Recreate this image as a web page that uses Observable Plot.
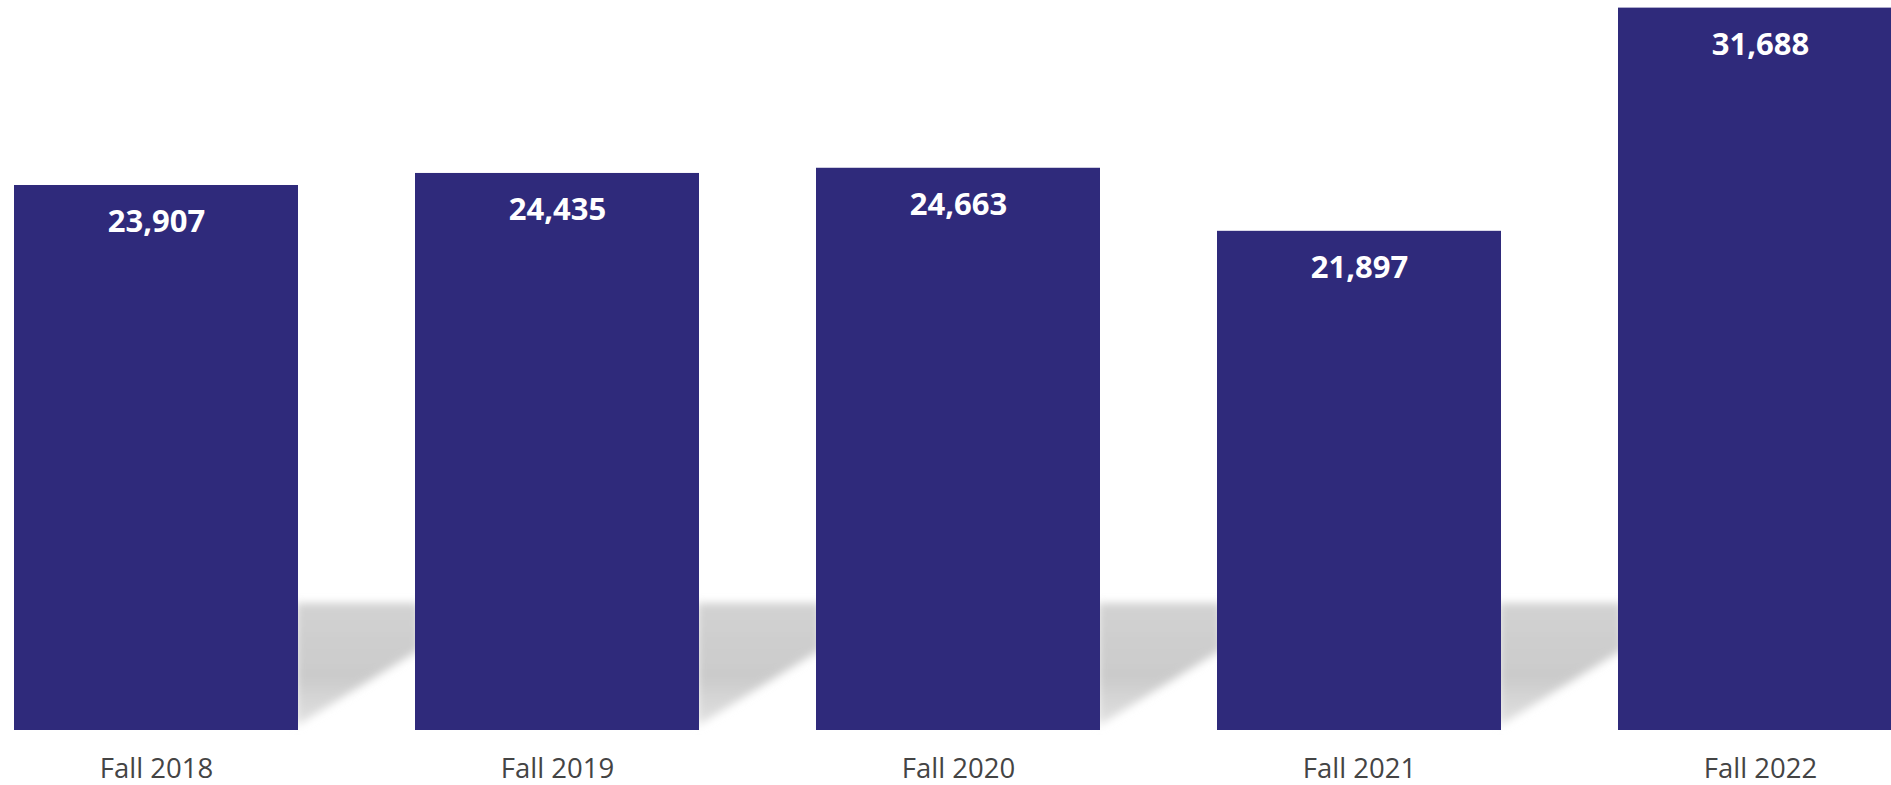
<!DOCTYPE html>
<html>
<head>
<meta charset="utf-8">
<script src="https://cdn.jsdelivr.net/npm/d3@7"></script>
<script src="https://cdn.jsdelivr.net/npm/@observablehq/plot@0.6"></script>
<style>
  html, body { margin: 0; padding: 0; background: #fff; overflow: hidden; }
  #chart svg { display: block; }
</style>
</head>
<body>
<div id="chart"></div>
<script>
const terms = ["Fall 2018", "Fall 2019", "Fall 2020", "Fall 2021", "Fall 2022"];
const enrollment = [23907, 24435, 24663, 21897, 31688];

const data = terms.map((t, i) => ({term: t, value: enrollment[i]}));

// decorative cast shadow to the right of each bar, placed from the scales
function shadows(index, scales, values, dimensions, context) {
  const svgNS = "http://www.w3.org/2000/svg";
  const g = document.createElementNS(svgNS, "g");
  const defs = document.createElementNS(svgNS, "defs");
  defs.innerHTML = `
    <filter id="shblur" x="-20%" y="-20%" width="140%" height="140%">
      <feGaussianBlur stdDeviation="4"/>
    </filter>
    <linearGradient id="shgrad" x1="0" y1="0" x2="0" y2="1">
      <stop offset="0" stop-color="#d2d2d2"/>
      <stop offset="0.6" stop-color="#cbcbcb"/>
      <stop offset="1" stop-color="#e2e2e2"/>
    </linearGradient>`;
  g.appendChild(defs);
  const bw = scales.x.bandwidth();
  const step = scales.x.step();
  const gap = step - bw;
  const y0 = scales.y(0);
  for (const t of terms) {
    const xr = scales.x(t) + bw;
    const p = document.createElementNS(svgNS, "polygon");
    const pts = [
      [xr - 2, y0 - 127],
      [xr + gap + 4, y0 - 127],
      [xr + gap + 4, y0 - 80],
      [xr - 2, y0 - 4]
    ];
    p.setAttribute("points", pts.map(d => d.join(",")).join(" "));
    p.setAttribute("fill", "url(#shgrad)");
    p.setAttribute("filter", "url(#shblur)");
    g.appendChild(p);
  }
  return g;
}

const chart = Plot.plot({
  width: 1891,
  height: 785,
  marginTop: 0,
  marginBottom: 55,
  marginLeft: 0,
  marginRight: 0,
  style: {background: "#fff", overflow: "hidden"},
  x: {domain: terms, range: [13, 1903], paddingInner: 0.293, paddingOuter: 0, label: null},
  y: {domain: [0, 32000], range: [730, 0.5], axis: null},
  marks: [
    shadows,
    Plot.barY(data, {x: "term", y: "value", fill: "#2f2a7b"}),
    Plot.text(data, {
      x: "term", y: "value", text: d => d3.format(",")(d.value),
      dy: 37, fill: "#fff", fontSize: 31, fontWeight: "bold",
      fontFamily: "Open Sans", lineAnchor: "middle"
    }),
    Plot.axisX({
      tickSize: 0, tickPadding: 0, dy: 28, fontSize: 27.5,
      fontFamily: "Open Sans", color: "#444", label: null
    })
  ]
});
document.getElementById("chart").appendChild(chart);
</script>
</body>
</html>
